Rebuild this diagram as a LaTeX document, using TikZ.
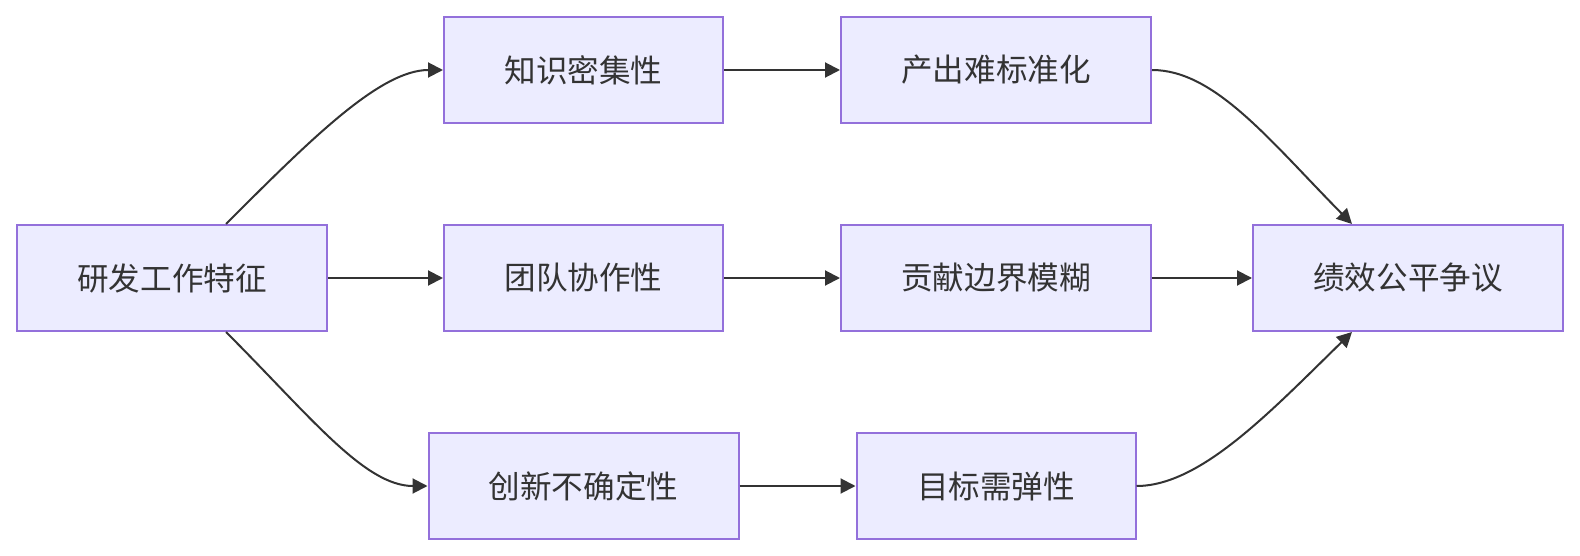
\documentclass[tikz,border=0pt]{standalone}
\usepackage{fontspec}
\newfontfamily\cjkfont{Noto Sans CJK SC}
\usetikzlibrary{positioning, arrows.meta}

\definecolor{boxfill}{HTML}{ECECFF}
\definecolor{boxline}{HTML}{9370DB}
\definecolor{ink}{HTML}{333333}

\begin{document}
\begin{tikzpicture}[
    x=0.5pt, y=-0.5pt,
    node distance=50pt,
    box/.style={rectangle, draw=boxline, fill=boxfill, line width=1pt, minimum width=155pt, minimum height=53pt, inner sep=0pt, text=ink, font=\cjkfont\fontsize{15.8pt}{19pt}\selectfont},
    narrow/.style={box, minimum width=139.5pt},
    arrow/.style={-{Triangle[length=7.5pt, width=7.5pt]}, line width=1pt, draw=ink},
]
\useasboundingbox (0,0) rectangle (1580,556);

%% NODES
    % source
    \node[box] (dev) at (172,278) {研发工作特征};

    % first column
    \node[narrow, right=57.5pt of dev] (team) {团队协作性};
    \node[narrow, above=of team] (know) {知识密集性};
    \node[box, below=of team] (innov) {创新不确定性};

    % second column
    \node[box, right=58pt of team] (contrib) {贡献边界模糊};
    \node[box, above=of contrib] (output) {产出难标准化};
    \node[narrow, below=of contrib] (goal) {目标需弹性};

    % result
    \node[box, right=50pt of contrib] (perf) {绩效公平争议};

%% EDGES
    \draw[arrow] ([xshift=27pt]dev.north) .. controls +(84,-84) and +(-63,0) .. (know.west);
    \draw[arrow] (dev.east) -- (team.west);
    \draw[arrow] ([xshift=27pt]dev.south) .. controls +(84,84) and +(-63,0) .. (innov.west);

    \draw[arrow] (know.east) -- (output.west);
    \draw[arrow] (team.east) -- (contrib.west);
    \draw[arrow] (innov.east) -- (goal.west);

    \draw[arrow] (output.east) .. controls +(63,0) and +(-82,-83) .. ([xshift=-28pt]perf.north);
    \draw[arrow] (contrib.east) -- (perf.west);
    \draw[arrow] (goal.east) .. controls +(64,0) and +(-82,80) .. ([xshift=-28pt]perf.south);

\end{tikzpicture}
\end{document}
